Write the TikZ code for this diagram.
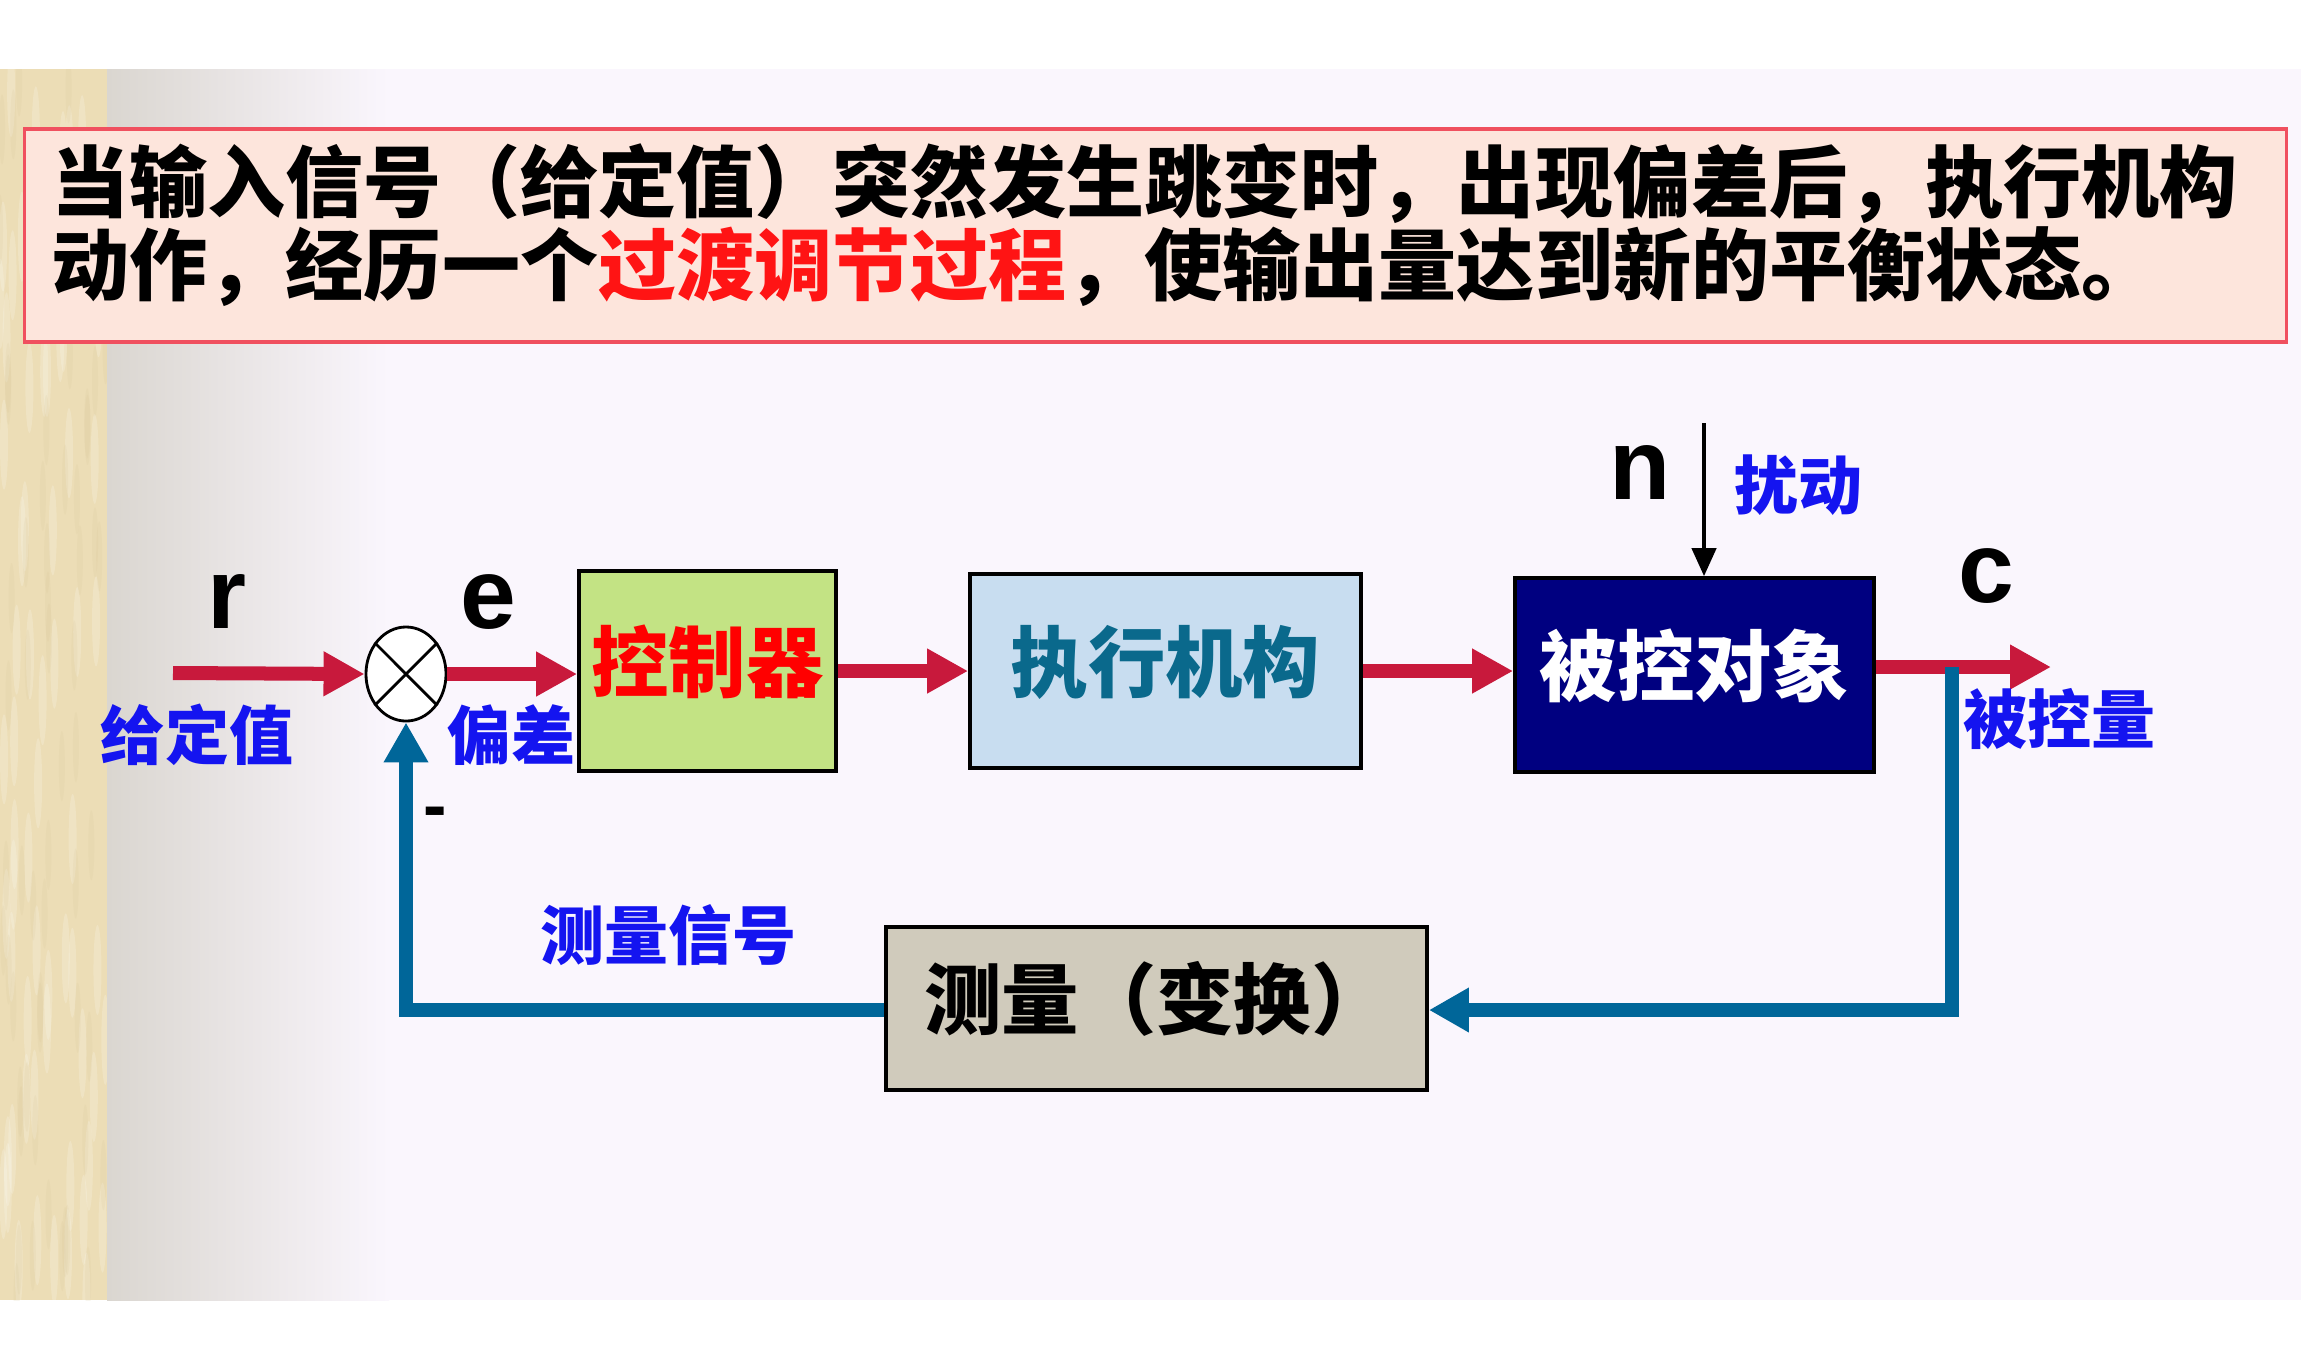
\documentclass[tikz,border=0pt]{standalone}
\usepackage{fontspec}
\usetikzlibrary{arrows.meta,shapes.geometric,calc}
\newfontfamily\cjk{Noto Sans CJK SC}
\newfontfamily\lat{Liberation Sans}
\definecolor{crim}{RGB}{200,25,60}
\definecolor{fbblue}{RGB}{0,102,153}
\definecolor{slidebg}{RGB}{250,246,253}
\definecolor{parch}{RGB}{236,221,182}
\definecolor{parchdark}{RGB}{214,196,150}
\definecolor{bandgray}{RGB}{218,214,208}
\definecolor{boxpink}{RGB}{253,229,220}
\definecolor{boxred}{RGB}{240,80,95}
\definecolor{ctrlgreen}{RGB}{195,227,132}
\definecolor{actblue}{RGB}{200,221,240}
\definecolor{plantnavy}{RGB}{0,0,128}
\definecolor{measgray}{RGB}{208,203,188}
\definecolor{lblblue}{RGB}{20,20,240}
\definecolor{actteal}{RGB}{10,105,140}
\definecolor{txtred}{RGB}{255,20,20}
\tikzset{
  blk/.style={draw=black, line width=1pt, inner sep=0pt, text height=0.70cm, text depth=0.30cm,
    font=\cjk\bfseries\fontsize{22pt}{22pt}\selectfont},
  fwd/.style={draw=crim, line width=0.14cm, -{Triangle[length=0.41cm,width=0.42cm]}},
  fbarrow/.style={draw=fbblue, line width=0.14cm, line join=miter, -{Triangle[length=0.40cm,width=0.42cm]}},
  lbl/.style={text=lblblue, inner sep=0pt, anchor=base, font=\cjk\bfseries\fontsize{18.2pt}{18.2pt}\selectfont},
  sym/.style={inner sep=0pt, anchor=base, font=\lat\bfseries\fontsize{28.5pt}{28.5pt}\selectfont},
  topline/.style={anchor=base west, inner sep=0pt, font=\cjk\bfseries\fontsize{22.2pt}{22.2pt}\selectfont},
  topbox/.style={draw=boxred, fill=boxpink, line width=1pt, inner sep=0pt}
}
\begin{document}
\begin{tikzpicture}[x=0.01cm, y=-0.01cm]
\useasboundingbox (0,0) rectangle (2301,1369);
% backgrounds
\fill[white] (0,0) rectangle (2301,1369);
\fill[slidebg] (0,69) rectangle (2301,1300);
\fill[parch] (0,69) rectangle (107,1300);
\begin{scope}
  \clip (0,69) rectangle (107,1300);
  \pgfmathsetseed{7}
  \foreach \i in {1,...,70}{
    \pgfmathsetmacro\xx{rnd*107}
    \pgfmathsetmacro\yy{69+rnd*1231}
    \fill[white, opacity=0.18] (\xx,\yy) ellipse (0.04cm and 0.45cm);
  }
  \foreach \i in {1,...,60}{
    \pgfmathsetmacro\xx{rnd*107}
    \pgfmathsetmacro\yy{69+rnd*1231}
    \fill[parchdark, opacity=0.15] (\xx,\yy) ellipse (0.03cm and 0.35cm);
  }
\end{scope}
\shade[left color=bandgray, right color=slidebg] (107,69) rectangle (389,1300);

% top text box
\node[topbox, minimum width=22.61cm, minimum height=2.13cm] (tbox) at (1155.5,235.5) {};
\node[topline] (l1) at (51,211) {当输入信号（给定值）突然发生跳变时，出现偏差后，执行机构};
\node[topline] (l2) at (51,294) {动作，经历一个\textcolor{txtred}{过渡调节过程}，使输出量达到新的平衡状态。};

% blocks
\node[blk, fill=ctrlgreen, text=red, minimum width=2.57cm, minimum height=2.00cm] (ctrl) at (707.5,671) {控制器};
\node[blk, fill=actblue, text=actteal, minimum width=3.91cm, minimum height=1.94cm] (act) at (1165.5,671) {执行机构};
\node[blk, fill=plantnavy, text=white, minimum width=3.59cm, minimum height=1.94cm] (plant) at (1694.5,675) {被控对象};
\node[blk, fill=measgray, text=black, minimum width=5.41cm, minimum height=1.63cm] (meas) at (1156.5,1008.5) {测量（变换）};

% summing junction
\node[draw, ellipse, line width=0.8pt, fill=white, minimum width=0.80cm, minimum height=0.94cm, inner sep=0pt] (sum) at (406,674) {};
\draw[line width=0.8pt] (sum.135) -- (sum.-45) (sum.45) -- (sum.-135);

% forward path
\coordinate (rin) at (173,673);
\coordinate (out) at (2051,667);
\draw[fwd] (rin) -- (sum.west);
\draw[fwd] (sum.east) -- (sum.east -| ctrl.west);
\draw[fwd] (ctrl.east) -- (act.west);
\draw[fwd] (act.east) -- (act.east -| plant.west);
\draw[fwd] (plant.east |- out) -- (out);

% feedback path
\coordinate (tap) at (1952,667);
\coordinate (fbr) at (1952,1010);
\coordinate (fbl) at (406,1010);
\draw[fbarrow] (tap) -- (fbr) -- (fbr -| meas.east);
\draw[fbarrow] (meas.west |- fbl) -- (fbl) -- (sum.south);

% disturbance
\coordinate (nin) at (1704,423);
\draw[line width=1.2pt, -{Triangle[length=0.28cm,width=0.24cm]}] (nin) -- (nin |- plant.north);

% labels
\node[sym] (r) at (227,628) {r};
\node[sym] (e) at (488,628) {e};
\node[sym] (n) at (1640,499) {n};
\node[sym] (c) at (1986,602) {c};
\node[lbl] (gdz) at (197,759) {给定值};
\node[lbl] (pc) at (511,759) {偏差};
\node[lbl] (rd) at (1798,509) {扰动};
\node[lbl] (bkl) at (2059,743) {被控量};
\node[lbl] (clxh) at (668,959) {测量信号};
\node[inner sep=0pt, anchor=base, font=\lat\bfseries\fontsize{20pt}{20pt}\selectfont] (minus) at (435,829) {-};
\end{tikzpicture}
\end{document}
